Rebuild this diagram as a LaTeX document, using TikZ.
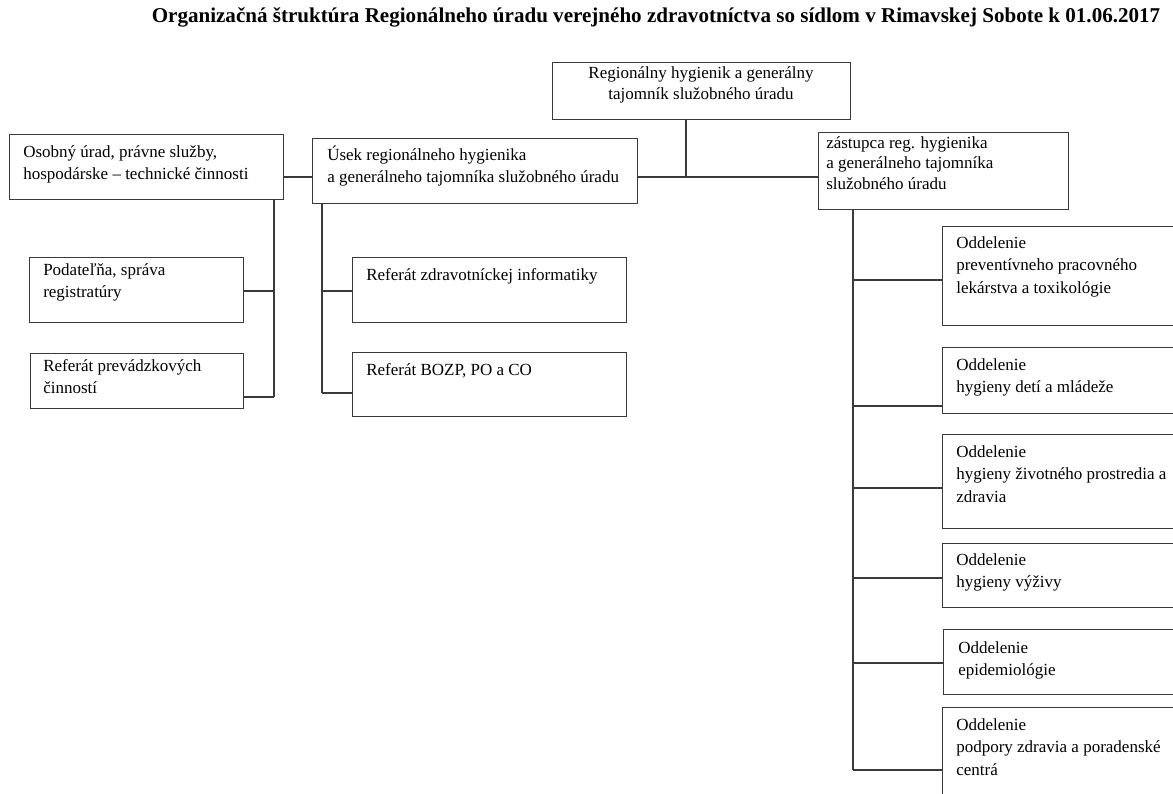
\documentclass[tikz,border=0pt]{standalone}
\usepackage{fontspec}
\setmainfont{Liberation Serif}
\definecolor{lc}{HTML}{3A3A3A}
\newcommand{\orgbox}[5]{\node[box,minimum width=#4*0.75pt,minimum height=#5*0.75pt] (#1) at (#2,#3) {};}
\newcommand{\ltxt}[1]{\begin{tabular}[t]{@{}l@{}}#1\end{tabular}}
\newcommand{\ctxt}[1]{\begin{tabular}[t]{@{}c@{}}#1\end{tabular}}
\begin{document}
\begin{tikzpicture}[x=0.75pt,y=-0.75pt,
 box/.style={draw=lc,line width=1.1pt,rectangle,inner sep=0pt,anchor=north west},
 txt/.style={inner sep=0pt,anchor=base west,font=\fontsize{12.75pt}{16.9pt}\selectfont},
 conn/.style={draw=lc,line width=1pt}]
\path[use as bounding box] (0,0) rectangle (1173,793);
\node[inner sep=0pt,font=\fontsize{15.8pt}{18pt}\selectfont\bfseries] (title) at (656,17) {Organizačná štruktúra Regionálneho úradu verejného zdravotníctva so sídlom v Rimavskej Sobote k 01.06.2017};
% boxes
\orgbox{top}{552}{62}{298}{57}
\orgbox{os}{9}{134}{274}{65}
\orgbox{us}{312}{138}{325}{65}
\orgbox{zs}{818}{132}{250}{77}
\orgbox{pod}{29}{257}{214}{65}
\orgbox{rpc}{30}{353}{213}{55}
\orgbox{rzi}{352}{257}{274}{65}
\orgbox{rbo}{352}{352}{274}{64}
\orgbox{o1}{942}{226}{260}{99}
\orgbox{o2}{942}{347}{260}{66}
\orgbox{o3}{942}{434}{260}{94}
\orgbox{o4}{942}{543}{260}{64}
\orgbox{o5}{943}{629}{260}{65}
\orgbox{o6}{942}{707}{260}{120}
% texts
\node[txt,anchor=base,font=\fontsize{12.75pt}{15.75pt}\selectfont] (ttop) at (701,78) {\ctxt{Regionálny hygienik a generálny\\tajomník služobného úradu}};
\node[txt] (tos) at (23,157) {\ltxt{Osobný úrad, právne služby,\\hospodárske – technické činnosti}};
\node[txt] (tus) at (327,160) {\ltxt{Úsek regionálneho hygienika\\a generálneho tajomníka služobného úradu}};
\node[txt,font=\fontsize{12.75pt}{15.5pt}\selectfont] (tzs) at (826,148) {\ltxt{zástupca reg. hygienika\\a generálneho tajomníka\\služobného úradu}};
\node[txt] (tpod) at (43,275) {\ltxt{Podateľňa, správa\\registratúry}};
\node[txt] (trpc) at (43,371) {\ltxt{Referát prevádzkových\\činností}};
\node[txt] (trzi) at (366,280) {Referát zdravotníckej informatiky};
\node[txt] (trbo) at (366,375) {Referát BOZP, PO a CO};
\node[txt] (to1) at (956,248) {\ltxt{Oddelenie\\preventívneho pracovného\\lekárstva a toxikológie}};
\node[txt] (to2) at (956,370) {\ltxt{Oddelenie\\hygieny detí a mládeže}};
\node[txt] (to3) at (956,457) {\ltxt{Oddelenie\\hygieny životného prostredia a\\zdravia}};
\node[txt] (to4) at (956,565) {\ltxt{Oddelenie\\hygieny výživy}};
\node[txt] (to5) at (958,653) {\ltxt{Oddelenie\\epidemiológie}};
\node[txt] (to6) at (956,730) {\ltxt{Oddelenie\\podpory zdravia a poradenské\\centrá}};
% connectors
\draw[conn] (686,0 |- top.south) -- (686,177);
\draw[conn] (us.east |- 0,177) -- (zs.west |- 0,177);
\draw[conn] (os.east |- 0,177) -- (us.west |- 0,177);
\draw[conn] (274,0 |- os.south) -- (274,397);
\draw[conn] (pod.east |- 0,291) -- (274,291);
\draw[conn] (rpc.east |- 0,397) -- (274,397);
\draw[conn] (322,0 |- us.south) -- (322,393);
\draw[conn] (322,291) -- (rzi.west |- 0,291);
\draw[conn] (322,393) -- (rbo.west |- 0,393);
\draw[conn] (853,0 |- zs.south) -- (853,770);
\draw[conn] (853,280) -- (o1.west |- 0,280);
\draw[conn] (853,406) -- (o2.west |- 0,406);
\draw[conn] (853,488) -- (o3.west |- 0,488);
\draw[conn] (853,578) -- (o4.west |- 0,578);
\draw[conn] (853,663) -- (o5.west |- 0,663);
\draw[conn] (853,770) -- (o6.west |- 0,770);
\end{tikzpicture}
\end{document}
